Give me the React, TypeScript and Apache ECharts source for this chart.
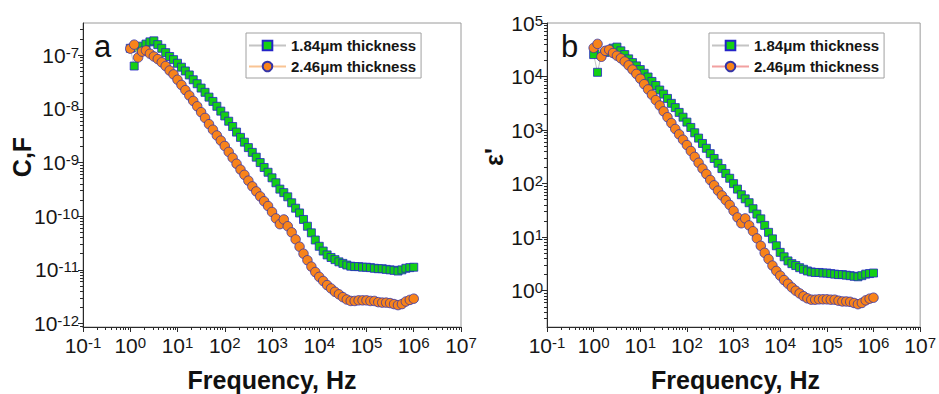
import React, { useEffect, useRef } from "react";
import * as echarts from "echarts";

const FONT = '"Liberation Sans", Arial, Helvetica, sans-serif';

// Frequency, Hz (12 points per decade, 1 Hz .. 1 MHz)
const freqHz = [
  1, 1.212, 1.468, 1.778, 2.154, 2.61, 3.162, 3.831, 4.642, 5.623, 6.813, 8.254,
  10, 12.12, 14.68, 17.78, 21.54, 26.1, 31.62, 38.31, 46.42, 56.23, 68.13, 82.54,
  100, 121.2, 146.8, 177.8, 215.4, 261, 316.2, 383.1, 464.2, 562.3, 681.3, 825.4,
  1000, 1212, 1468, 1778, 2154, 2610, 3162, 3831, 4642, 5623, 6813, 8254,
  10000, 12120, 14680, 17780, 21540, 26100, 31620, 38310, 46420, 56230, 68130, 82540,
  100000, 121200, 146800, 177800, 215400, 261000, 316200, 383100, 464200, 562300, 681300, 825400,
  1000000,
];

// Panel a: capacitance C, F
const cap184 = [
  1.35e-7, 6.31e-8, 1.38e-7, 1.48e-7, 1.62e-7, 1.78e-7, 1.86e-7, 1.58e-7, 1.35e-7, 1.12e-7,
  9.5e-8, 8.3e-8, 7.1e-8, 6.0e-8, 5.1e-8, 4.3e-8, 3.5e-8, 2.95e-8, 2.45e-8, 2.04e-8,
  1.66e-8, 1.38e-8, 1.12e-8, 9.1e-9, 7.4e-9, 5.9e-9, 4.7e-9, 3.7e-9, 2.95e-9, 2.4e-9,
  1.9e-9, 1.55e-9, 1.26e-9, 1.0e-9, 8.1e-10, 6.6e-10, 5.2e-10, 4.2e-10, 3.2e-10, 2.75e-10,
  2.3e-10, 1.78e-10, 1.41e-10, 1.15e-10, 8.7e-11, 6.5e-11, 4.9e-11, 3.6e-11, 2.75e-11, 2.24e-11,
  1.9e-11, 1.7e-11, 1.55e-11, 1.41e-11, 1.32e-11, 1.23e-11, 1.17e-11, 1.15e-11, 1.15e-11, 1.12e-11,
  1.12e-11, 1.1e-11, 1.07e-11, 1.05e-11, 1.05e-11, 1.02e-11, 1.0e-11, 9.8e-12, 9.5e-12, 1.0e-11,
  1.07e-11, 1.1e-11, 1.12e-11,
];
const cap246 = [
  1.33e-7, 1.58e-7, 9.1e-8, 1.17e-7, 1.23e-7, 1.07e-7, 9.5e-8, 8.5e-8, 7.4e-8, 6.3e-8,
  5.2e-8, 4.4e-8, 3.5e-8, 2.8e-8, 2.24e-8, 1.78e-8, 1.41e-8, 1.12e-8, 8.7e-9, 6.8e-9,
  5.2e-9, 4.1e-9, 3.2e-9, 2.57e-9, 2.04e-9, 1.58e-9, 1.23e-9, 9.5e-10, 7.4e-10, 5.9e-10,
  4.6e-10, 3.6e-10, 2.9e-10, 2.34e-10, 1.9e-10, 1.55e-10, 1.2e-10, 9.1e-11, 7.1e-11, 8.7e-11,
  6.5e-11, 5.0e-11, 3.7e-11, 2.7e-11, 2.0e-11, 1.51e-11, 1.15e-11, 9.1e-12, 7.4e-12, 6.2e-12,
  5.2e-12, 4.5e-12, 3.9e-12, 3.5e-12, 3.1e-12, 2.8e-12, 2.63e-12, 2.63e-12, 2.7e-12, 2.7e-12,
  2.7e-12, 2.63e-12, 2.63e-12, 2.5e-12, 2.45e-12, 2.45e-12, 2.4e-12, 2.3e-12, 2.2e-12, 2.3e-12,
  2.57e-12, 2.75e-12, 2.9e-12,
];

// Panel b: permittivity ε'
const eps184 = [
  2.57e4, 1.2e4, 2.63e4, 2.82e4, 3.09e4, 3.39e4, 3.55e4, 3.02e4, 2.57e4, 2.14e4,
  1.82e4, 1.58e4, 1.35e4, 1.15e4, 9800, 8100, 6800, 5600, 4700, 3900,
  3160, 2630, 2140, 1740, 1410, 1120, 891, 708, 562, 457,
  363, 295, 240, 191, 155, 126, 100, 79, 62, 52,
  44, 34, 27, 22, 16.6, 12.3, 9.3, 6.9, 5.2, 4.3,
  3.6, 3.2, 2.95, 2.69, 2.51, 2.34, 2.24, 2.19, 2.19, 2.14,
  2.14, 2.09, 2.04, 2.0, 2.0, 1.95, 1.91, 1.86, 1.82, 1.91,
  2.04, 2.09, 2.14,
];
const eps246 = [
  3.43e4, 4.07e4, 2.34e4, 3.02e4, 3.16e4, 2.75e4, 2.45e4, 2.19e4, 1.91e4, 1.62e4,
  1.35e4, 1.12e4, 9100, 7200, 5750, 4570, 3630, 2880, 2240, 1740,
  1350, 1050, 832, 661, 525, 407, 316, 245, 191, 151,
  117, 93, 74, 60, 49, 40, 31, 23.4, 18.2, 22.4,
  16.6, 12.9, 9.5, 6.9, 5.1, 3.9, 2.95, 2.34, 1.91, 1.58,
  1.35, 1.15, 1.0, 0.89, 0.79, 0.72, 0.68, 0.68, 0.69, 0.69,
  0.69, 0.68, 0.68, 0.65, 0.63, 0.63, 0.62, 0.59, 0.56, 0.59,
  0.66, 0.71, 0.74,
];

const seriesNames = ["1.84\u03bcm thickness", "2.46\u03bcm thickness"];
const xTickExps = [-1, 0, 1, 2, 3, 4, 5, 6, 7];
const capTickExps = [-12, -11, -10, -9, -8, -7];
const epsTickExps = [0, 1, 2, 3, 4, 5];
const panelLetters = ["a", "b"];
const xTitle = "Frequency, Hz";
const yTitles = ["C,F", "\u03b5'"];

const pow10 = (e: number) => Number(`1e${e}`);

function minorValues(lo: number, hi: number) {
  const out: number[] = [];
  const e0 = Math.floor(Math.log10(lo)) - 1;
  const e1 = Math.ceil(Math.log10(hi));
  for (let e = e0; e <= e1; e++) {
    for (let k = 2; k <= 9; k++) {
      const v = Number(`${k}e${e}`);
      if (v > lo && v < hi) out.push(v);
    }
  }
  return out;
}

const labelFmt = (v: number) => {
  const e = Math.round(Math.log10(v));
  return `10{s|${e}}`;
};
const rich = {
  s: { fontSize: 15, fontFamily: FONT, color: "#161616", verticalAlign: "top", lineHeight: 15 },
};

interface PanelCfg {
  yMin: number;
  yMax: number;
  yExps: number[];
  thin: number[];
  thick: number[];
  thickLine: string;
  gridLeft: number;
  gridWidth: number;
  legendLeft: number;
  letter: string;
  letterX: number;
  yTitle: string;
  yTitleX: number;
}

function buildOption(p: PanelCfg) {
  const xMin = pow10(xTickExps[0]);
  const xMax = pow10(xTickExps[xTickExps.length - 1]);
  const xMajor = xTickExps.map(pow10);
  const yMajor = p.yExps.map(pow10);
  const axisColor = "#2a2a2a";
  const top = 23;
  const height = 304;
  const common = { type: "log", logBase: 10, splitLine: { show: false }, minorTick: { show: false } };
  const labelBase = { fontSize: 21, fontFamily: FONT, color: "#161616", formatter: labelFmt, rich };
  return {
    animation: false,
    textStyle: { fontFamily: FONT },
    grid: {
      left: p.gridLeft,
      top,
      width: p.gridWidth,
      height,
      show: true,
      borderColor: "#9a9a9a",
      borderWidth: 1,
      backgroundColor: "transparent",
    },
    legend: {
      data: seriesNames,
      orient: "vertical",
      left: p.legendLeft,
      top: 33,
      itemWidth: 37,
      itemHeight: 12,
      itemGap: 6,
      padding: [5, 5, 4, 2],
      borderColor: "#a0a0a0",
      borderWidth: 1,
      selectedMode: false,
      textStyle: { fontFamily: FONT, fontWeight: "bold", fontSize: 15, color: "#161616" },
    },
    xAxis: [
      {
        ...common,
        min: xMin,
        max: xMax,
        position: "bottom",
        axisLine: { show: true, lineStyle: { color: axisColor, width: 1 } },
        axisTick: { show: true, customValues: xMajor, length: 5, lineStyle: { color: axisColor } },
        axisLabel: { ...labelBase, customValues: xMajor, margin: 8 },
      },
      {
        ...common,
        min: xMin,
        max: xMax,
        position: "bottom",
        axisLine: { show: false },
        axisTick: { show: true, customValues: minorValues(xMin, xMax), length: 3, lineStyle: { color: axisColor } },
        axisLabel: { show: false },
      },
    ],
    yAxis: [
      {
        ...common,
        min: p.yMin,
        max: p.yMax,
        position: "left",
        axisLine: { show: true, lineStyle: { color: axisColor, width: 1 } },
        axisTick: { show: true, customValues: yMajor, length: 5, lineStyle: { color: axisColor } },
        axisLabel: { ...labelBase, customValues: yMajor, margin: 4 },
      },
      {
        ...common,
        min: p.yMin,
        max: p.yMax,
        position: "left",
        axisLine: { show: false },
        axisTick: { show: true, customValues: minorValues(p.yMin, p.yMax), length: 3, lineStyle: { color: axisColor } },
        axisLabel: { show: false },
      },
    ],
    series: [
      {
        type: "line",
        name: seriesNames[0],
        xAxisIndex: 0,
        yAxisIndex: 0,
        data: freqHz.map((f, i) => [f, p.thin[i]]),
        symbol: "rect",
        symbolSize: 8,
        showSymbol: true,
        lineStyle: { color: "#c4c4c4", width: 1 },
        itemStyle: { color: "#14cf14", borderColor: "#2424c8", borderWidth: 0.8 },
        z: 2,
      },
      {
        type: "line",
        name: seriesNames[1],
        xAxisIndex: 0,
        yAxisIndex: 0,
        data: freqHz.map((f, i) => [f, p.thick[i]]),
        symbol: "circle",
        symbolSize: 9.5,
        showSymbol: true,
        lineStyle: { color: p.thickLine, width: 1 },
        itemStyle: { color: "#f8831a", borderColor: "#3434a8", borderWidth: 0.8 },
        z: 3,
      },
    ],
    graphic: [
      {
        type: "text",
        x: p.letterX,
        y: 46,
        style: { text: p.letter, fontSize: 31, fontFamily: FONT, fill: "#111", align: "left", verticalAlign: "middle" },
      },
      {
        type: "text",
        x: p.yTitleX,
        y: 157,
        rotation: Math.PI / 2,
        style: {
          text: p.yTitle,
          fontSize: 25,
          fontWeight: "bold",
          fontFamily: FONT,
          fill: "#111",
          align: "center",
          verticalAlign: "middle",
        },
      },
      {
        type: "text",
        x: p.gridLeft + p.gridWidth / 2,
        y: 380,
        style: {
          text: xTitle,
          fontSize: 25,
          fontWeight: "bold",
          fontFamily: FONT,
          fill: "#111",
          align: "center",
          verticalAlign: "middle",
        },
      },
    ],
  };
}

const optA = buildOption({
  yMin: 8.6e-13,
  yMax: 4e-7,
  yExps: capTickExps,
  thin: cap184,
  thick: cap246,
  thickLine: "#f9c493",
  gridLeft: 83,
  gridWidth: 378,
  legendLeft: 246,
  letter: panelLetters[0],
  letterX: 94,
  yTitle: yTitles[0],
  yTitleX: 22,
});

const optB = buildOption({
  yMin: 0.21,
  yMax: 1e5,
  yExps: epsTickExps,
  thin: eps184,
  thick: eps246,
  thickLine: "#f2a0a0",
  gridLeft: 77,
  gridWidth: 377,
  legendLeft: 239,
  letter: panelLetters[1],
  letterX: 91,
  yTitle: yTitles[1],
  yTitleX: 24,
});

function Panel({ option, style }: { option: any; style: React.CSSProperties }) {
  const ref = useRef<HTMLDivElement>(null);
  useEffect(() => {
    const chart = echarts.init(ref.current as HTMLDivElement, undefined, { renderer: "svg" });
    chart.setOption(option);
    return () => chart.dispose();
  }, [option]);
  return <div ref={ref} style={style} />;
}

export default function App() {
  return (
    <div style={{ position: "fixed", left: 0, top: 0, width: 939, height: 394, background: "#fff" }}>
      <Panel option={optA} style={{ position: "absolute", left: 0, top: 0, width: 500, height: 394 }} />
      <Panel option={optB} style={{ position: "absolute", left: 470, top: 0, width: 469, height: 394 }} />
    </div>
  );
}
